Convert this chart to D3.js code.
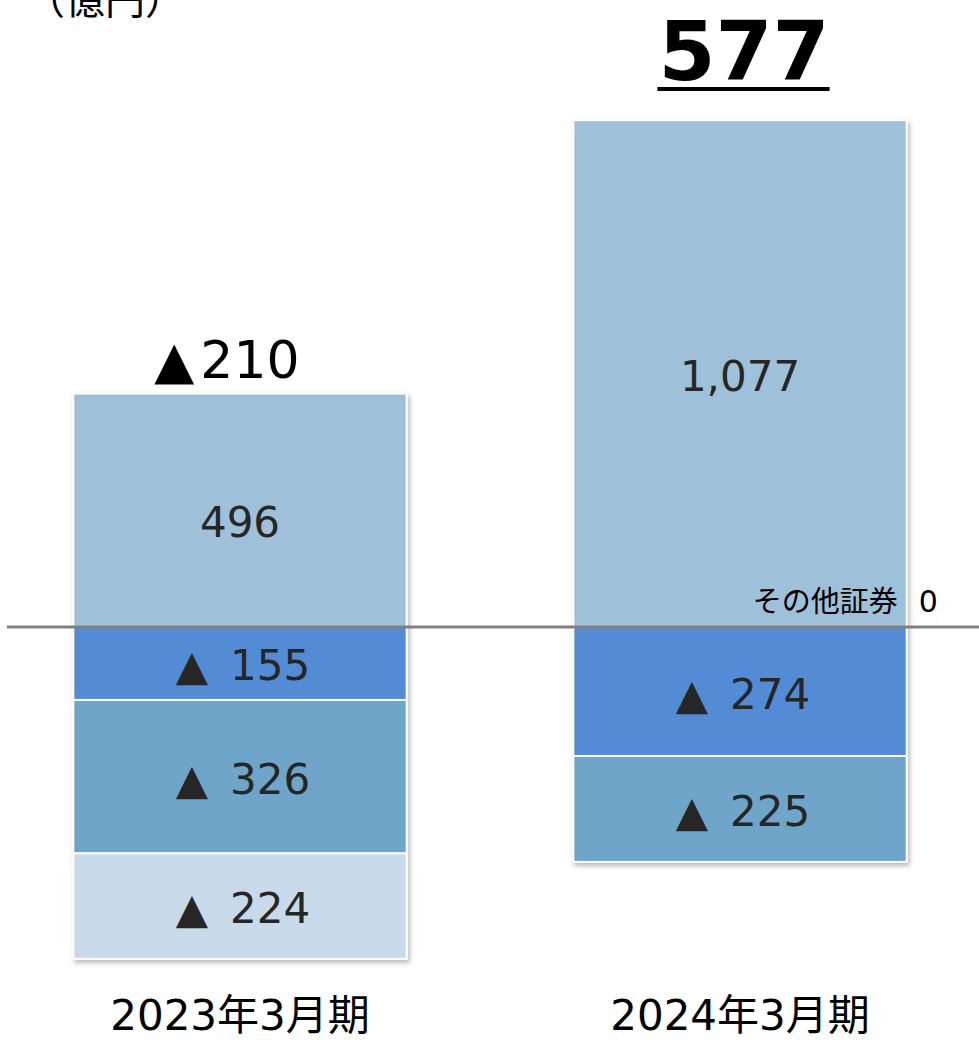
<!DOCTYPE html>
<html>
<head>
<meta charset="utf-8">
<script src="https://cdn.jsdelivr.net/npm/d3@7"></script>
<style>
  body { margin: 0; background: #fff; }
  text { font-family: "DejaVu Sans", "Noto Sans CJK JP", sans-serif; }
</style>
</head>
<body>
<svg id="chart"></svg>
<script>
// data (億円)
const periods = ["2023年3月期", "2024年3月期"];
const segNames = ["seg1", "その他証券", "seg2", "seg3", "seg4"];
const seg1 = [496, 1077];
const otherSecurities = [null, 0];
const seg2 = [-155, -274];
const seg3 = [-326, -225];
const seg4 = [-224, null];
const totals = [-210, 577];
const segColors = ["#9fc0d9", "#9fc0d9", "#538cd5", "#6ea5c9", "#c8dae9"];

const width = 979, height = 1040;

const svg = d3.select("#chart").attr("width", width).attr("height", height);

const defs = svg.append("defs");
const shadow = defs.append("filter").attr("id", "shadow")
  .attr("x", "-10%").attr("y", "-10%").attr("width", "120%").attr("height", "120%");
shadow.append("feDropShadow")
  .attr("dx", 2).attr("dy", 3).attr("stdDeviation", 2.5)
  .attr("flood-color", "#000").attr("flood-opacity", 0.28);

const x = d3.scaleBand()
  .domain(periods)
  .range([-10, 990])
  .paddingInner(1 / 3)
  .paddingOuter(1 / 6);

const y = d3.scaleLinear()
  .domain([-1000, 1200])
  .range([1097.7, 62.2]);

// build stacked segments (positives up, negatives down)
const allSeries = [seg1, otherSecurities, seg2, seg3, seg4];
const stacks = periods.map((p, i) => {
  let pos = 0, neg = 0;
  const segs = [];
  allSeries.forEach((s, k) => {
    const v = s[i];
    if (v === null) return;
    let y0, y1;
    if (v >= 0) { y0 = pos; y1 = pos + v; pos = y1; }
    else { y0 = neg; y1 = neg + v; neg = y1; }
    segs.push({ period: p, key: segNames[k], k, value: v, y0, y1 });
  });
  return { period: p, segs, top: pos, total: totals[i] };
});

const fmt = d3.format(",");

// bars
const barG = svg.selectAll(".bar")
  .data(stacks)
  .join("g")
  .attr("class", "bar")
  .attr("filter", "url(#shadow)");

barG.selectAll("rect")
  .data(d => d.segs.filter(s => s.value !== 0))
  .join("rect")
  .attr("x", d => x(d.period))
  .attr("width", x.bandwidth())
  .attr("y", d => y(Math.max(d.y0, d.y1)))
  .attr("height", d => Math.abs(y(d.y0) - y(d.y1)))
  .attr("fill", d => segColors[d.k])
  .attr("stroke", "#fff")
  .attr("stroke-width", 2);

// segment labels
const segLabels = svg.selectAll(".seg-label")
  .data(stacks.flatMap(d => d.segs.filter(s => s.value !== 0)))
  .join("text")
  .attr("class", "seg-label")
  .attr("x", d => x(d.period) + x.bandwidth() / 2 + (d.value < 0 ? 3 : 0))
  .attr("y", d => (y(d.y0) + y(d.y1)) / 2 + (d.k === 0 && d.value < 600 ? 12 : 2))
  .attr("text-anchor", "middle")
  .attr("dominant-baseline", "central")
  .attr("font-size", 42)
  .attr("fill", "#262626");

segLabels.filter(d => d.value < 0).append("tspan").text("▲");
segLabels.append("tspan")
  .attr("dx", d => d.value < 0 ? 22 : 0)
  .text(d => fmt(Math.abs(d.value)));

// zero line
svg.append("line")
  .attr("x1", 7).attr("x2", width)
  .attr("y1", y(0)).attr("y2", y(0))
  .attr("stroke", "#808080")
  .attr("stroke-width", 3);

// zero-value segment label (その他証券)
const zeroSegs = stacks.flatMap(d => d.segs.filter(s => s.value === 0));
zeroSegs.forEach(d => {
  const xr = x(d.period) + x.bandwidth();
  svg.append("text")
    .attr("x", xr - 9).attr("y", y(0) - 15)
    .attr("text-anchor", "end")
    .attr("font-family", "Noto Sans CJK JP")
    .attr("font-size", 29)
    .attr("fill", "#000")
    .text(d.key);
  svg.append("text")
    .attr("x", xr + 12).attr("y", y(0) - 15)
    .attr("font-size", 30)
    .attr("fill", "#000")
    .text(d.value);
});

// totals above bars
stacks.forEach(d => {
  const cx = x(d.period) + x.bandwidth() / 2;
  if (d.total < 0) {
    const t = svg.append("text")
      .attr("x", cx - 13).attr("y", y(d.top) - 16)
      .attr("text-anchor", "middle")
      .attr("font-size", 52)
      .attr("fill", "#000");
    t.append("tspan").text("▲");
    t.append("tspan").attr("dx", 6).text(fmt(-d.total));
  } else {
    const t = svg.append("text")
      .attr("x", cx + 4).attr("y", y(d.top) - 40)
      .attr("text-anchor", "middle")
      .attr("font-size", 82)
      .attr("font-weight", "bold")
      .attr("fill", "#000")
      .text(fmt(d.total));
    const bb = t.node().getBBox();
    svg.append("line")
      .attr("x1", bb.x - 1).attr("x2", bb.x + bb.width)
      .attr("y1", y(d.top) - 31).attr("y2", y(d.top) - 31)
      .attr("stroke", "#000").attr("stroke-width", 4);
  }
});

// category labels
svg.selectAll(".cat")
  .data(periods)
  .join("text")
  .attr("class", "cat")
  .attr("x", d => x(d) + x.bandwidth() / 2)
  .attr("y", 1030)
  .attr("text-anchor", "middle")
  .attr("font-family", "Noto Sans CJK JP")
  .attr("font-size", 42)
  .attr("fill", "#000")
  .text(d => d);

// unit label
svg.append("text")
  .attr("x", 25).attr("y", 14)
  .attr("font-family", "Noto Sans CJK JP")
  .attr("font-size", 40)
  .attr("fill", "#000")
  .text("（億円）");
</script>
</body>
</html>
